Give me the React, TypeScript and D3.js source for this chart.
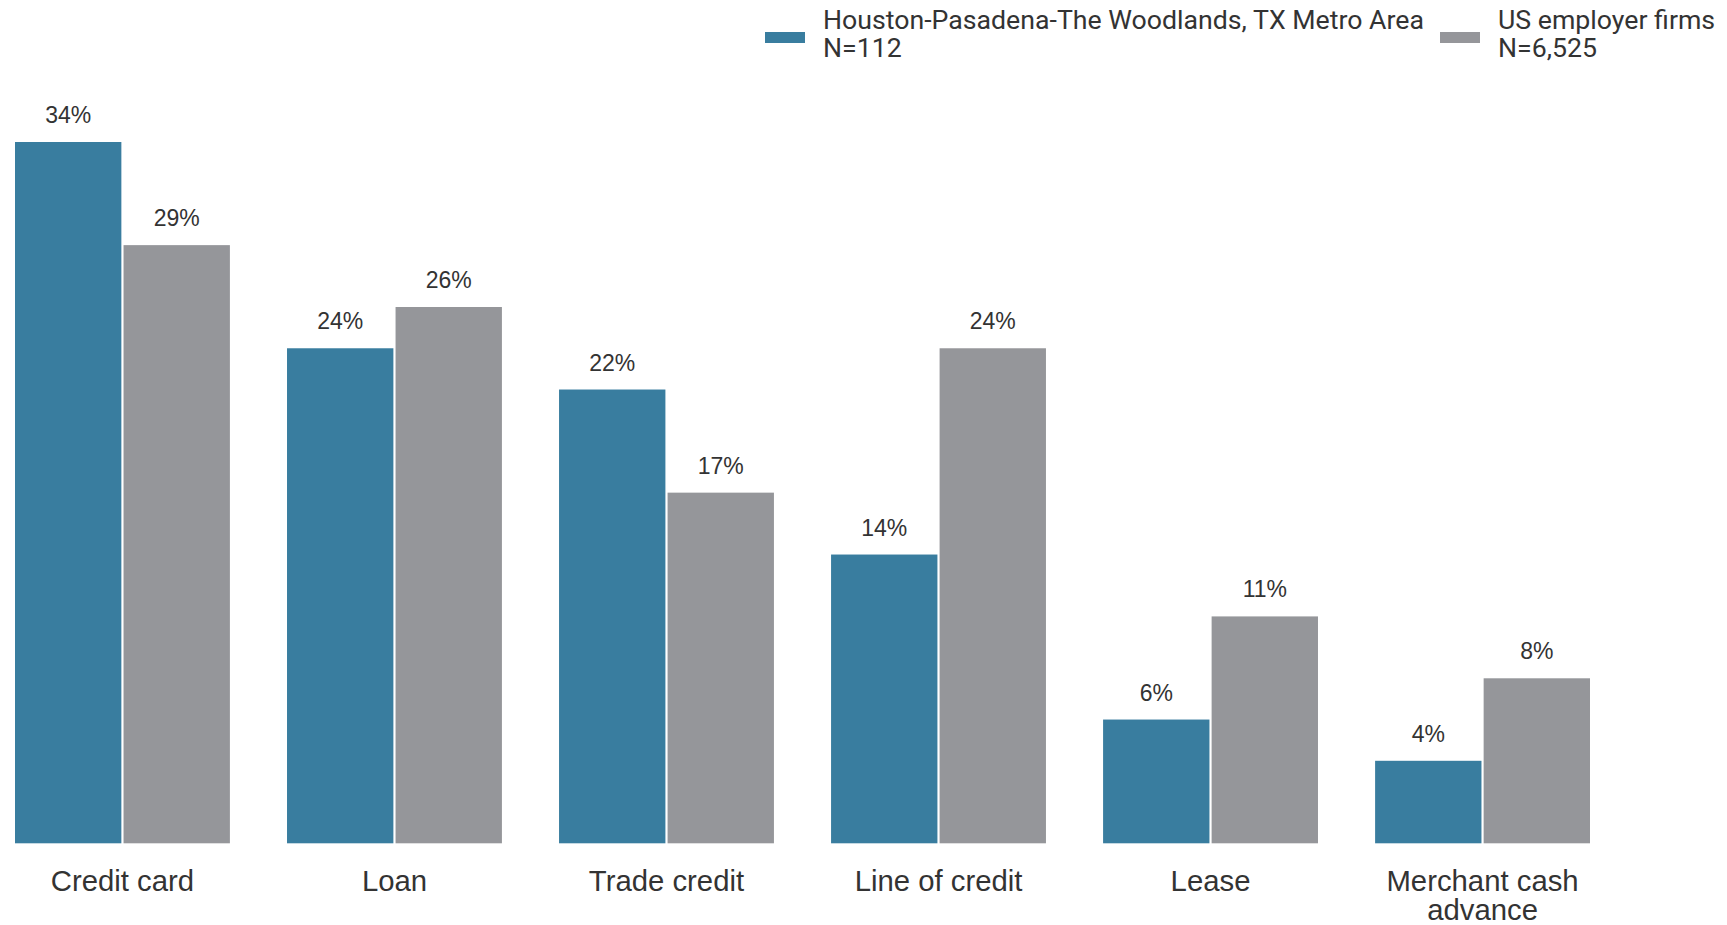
import { useEffect, useRef } from "react";
import * as d3 from "d3";

const categories = ["Credit card", "Loan", "Trade credit", "Line of credit", "Lease", "Merchant cash advance"];
const houstonValues = [34, 24, 22, 14, 6, 4];
const usValues = [29, 26, 17, 24, 11, 8];
const seriesNames = ["Houston-Pasadena-The Woodlands, TX Metro Area", "US employer firms"];
const seriesN = ["N=112", "N=6,525"];
const colors = ["#397d9f", "#95969a"];

const width = 1727;
const height = 925;

const App = () => {
  const ref = useRef<SVGSVGElement>(null);

  useEffect(() => {
    const svg = d3.select(ref.current);
    svg.selectAll("*").remove();

    const x = d3.scaleBand().domain(categories).range([15, 1590]).paddingInner(0.21).paddingOuter(0);
    const xInner = d3.scaleBand().domain(["0", "1"]).range([0, x.bandwidth()]).paddingInner(0.02);
    const y = d3.scaleLinear().domain([0, 34]).range([843.3, 142]);

    const rows = categories.map((c, i) => ({ cat: c, vals: [houstonValues[i], usValues[i]] }));

    const g = svg.selectAll(".grp").data(rows).enter().append("g")
      .attr("transform", (d) => `translate(${x(d.cat)},0)`);

    const bars = g.selectAll("g.bar").data((d) => d.vals.map((v, k) => ({ v, k }))).enter().append("g");

    bars.append("rect")
      .attr("x", (d) => xInner(String(d.k)) as number)
      .attr("y", (d) => y(d.v))
      .attr("width", xInner.bandwidth())
      .attr("height", (d) => y(0) - y(d.v))
      .attr("fill", (d) => colors[d.k]);

    bars.append("text")
      .attr("x", (d) => (xInner(String(d.k)) as number) + xInner.bandwidth() / 2)
      .attr("y", (d) => y(d.v) - 19)
      .attr("text-anchor", "middle")
      .style("font-family", "Arial, 'Liberation Sans', sans-serif")
      .style("font-size", "23px")
      .style("fill", "#333")
      .text((d) => d.v + "%");

    // category labels
    const labels = svg.selectAll(".cat").data(categories).enter().append("text")
      .attr("x", (d) => (x(d) as number) + x.bandwidth() / 2)
      .attr("y", 891)
      .attr("text-anchor", "middle")
      .style("font-family", "Arial, 'Liberation Sans', sans-serif")
      .style("font-size", "29.3px")
      .style("fill", "#333");
    labels.each(function (d) {
      const t = d3.select(this);
      const lines = d === "Merchant cash advance" ? ["Merchant cash", "advance"] : [d];
      lines.forEach((l, i) => {
        t.append("tspan")
          .attr("x", (x(d) as number) + x.bandwidth() / 2)
          .attr("dy", i === 0 ? 0 : 29)
          .text(l);
      });
    });

    // legend
    const legendX = [765, 1440];
    const leg = svg.selectAll(".leg").data(seriesNames).enter().append("g")
      .attr("transform", (d, i) => `translate(${legendX[i]},0)`);
    leg.append("rect")
      .attr("x", 0).attr("y", 32).attr("width", 40).attr("height", 11)
      .attr("fill", (d, i) => colors[i]);
    const lt = leg.append("text")
      .style("font-family", "Roboto, sans-serif")
      .style("font-size", "26.7px")
      .style("fill", "#333");
    lt.append("tspan").attr("x", 58).attr("y", 28.5).text((d) => d);
    lt.append("tspan").attr("x", 58).attr("y", 56.5).text((d, i) => seriesN[i]);
  }, []);

  return (
    <svg
      ref={ref}
      width={width}
      height={height}
      style={{ position: "absolute", left: 0, top: 0, background: "#fff" }}
    />
  );
};

export default App;
